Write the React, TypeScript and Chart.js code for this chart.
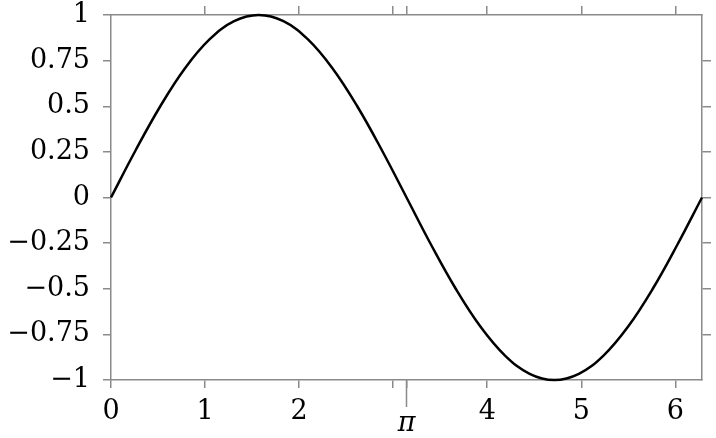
import React, { useEffect, useRef } from 'react';
import { Chart, registerables, Plugin } from 'chart.js';

Chart.register(...registerables);

// samples (x in radians, y)
const xs = [0, 0.262, 0.524, 0.785, 1.047, 1.309, 1.571, 1.833, 2.094, 2.356, 2.618, 2.88, 3.142,
    3.403, 3.665, 3.927, 4.189, 4.451, 4.712, 4.974, 5.236, 5.498, 5.76, 6.021, 6.283];
const ys = [0, 0.259, 0.5, 0.707, 0.866, 0.966, 1, 0.966, 0.866, 0.707, 0.5, 0.259, 0,
    -0.259, -0.5, -0.707, -0.866, -0.966, -1, -0.966, -0.866, -0.707, -0.5, -0.259, 0];

const PI = 3.14159265;
const X_MAX = 6.2832;

// bottom axis ticks and labels (3 has no label, pi is drawn with a long tick)
const xTickValues = [0, 1, 2, 3, PI, 4, 5, 6];
const xTickLabels = ['0', '1', '2', '', '', '4', '5', '6'];
const xTopTickValues = [1, 2, 3, PI, 4, 5, 6];

const yTickValues = [-1, -0.75, -0.5, -0.25, 0, 0.25, 0.5, 0.75, 1];
const yTickLabels = ['\u22121', '\u22120.75', '\u22120.5', '\u22120.25', '0', '0.25', '0.5', '0.75', '1'];
const yRightTickValues = [-0.75, -0.5, -0.25, 0, 0.25, 0.5, 0.75];

const AXIS = '#8a8a8a';
const FONT = 'DejaVu Serif';
const FONT_SIZE = 27;

const App: React.FC = () => {
    const canvasRef = useRef<HTMLCanvasElement | null>(null);

    useEffect(() => {
        if (!canvasRef.current) return;
        const ctx = canvasRef.current.getContext('2d');
        if (!ctx) return;

        // long tick + label for pi on the bottom axis
        const piTick: Plugin = {
            id: 'piTick',
            afterDraw(chart) {
                const s = chart.scales.x;
                const c = chart.ctx;
                const px = s.getPixelForValue(PI);
                c.save();
                c.strokeStyle = AXIS;
                c.lineWidth = 1.5;
                c.beginPath();
                c.moveTo(px, chart.chartArea.bottom);
                c.lineTo(px, chart.chartArea.bottom + 27);
                c.stroke();
                c.fillStyle = '#000';
                c.font = `italic ${FONT_SIZE}px "${FONT}"`;
                c.textAlign = 'center';
                c.textBaseline = 'middle';
                c.fillText('\u03c0', px, 424);
                c.restore();
            }
        };

        const gridOpts = (len: number) => ({
            drawOnChartArea: false,
            color: AXIS,
            lineWidth: 1.5,
            tickLength: len,
        });
        const borderOpts = { color: AXIS, width: 1.5 };
        const noPad = (s: any) => {
            s.paddingTop = 0;
            s.paddingBottom = 0;
            s.paddingLeft = 0;
            s.paddingRight = 0;
        };

        const chart = new Chart(ctx, {
            type: 'line',
            data: {
                datasets: [{
                    data: xs.map((x, i) => ({ x, y: ys[i] })),
                    borderColor: '#000',
                    borderWidth: 2.5,
                    pointRadius: 0,
                    tension: 0.4,
                    fill: false,
                    clip: false as any,
                }]
            },
            options: {
                animation: false,
                responsive: false,
                devicePixelRatio: 1,
                layout: { padding: 0 },
                plugins: { legend: { display: false }, tooltip: { enabled: false } },
                scales: {
                    x: {
                        type: 'linear',
                        position: 'bottom',
                        min: 0,
                        max: X_MAX,
                        afterBuildTicks: (s: any) => { s.ticks = xTickValues.map(v => ({ value: v })); },
                        afterFit: (s: any) => { s.height = 58; noPad(s); },
                        ticks: {
                            autoSkip: false,
                            maxRotation: 0,
                            padding: 8,
                            color: '#000',
                            font: { family: FONT, size: FONT_SIZE },
                            callback: (v: any) => xTickLabels[xTickValues.indexOf(Number(v))] ?? '',
                        },
                        grid: gridOpts(8),
                        border: borderOpts,
                    },
                    x2: {
                        type: 'linear',
                        position: 'top',
                        min: 0,
                        max: X_MAX,
                        afterBuildTicks: (s: any) => { s.ticks = xTopTickValues.map(v => ({ value: v })); },
                        afterFit: (s: any) => { s.height = 15; noPad(s); },
                        ticks: { display: false },
                        grid: gridOpts(9),
                        border: borderOpts,
                    },
                    y: {
                        type: 'linear',
                        position: 'left',
                        min: -1,
                        max: 1,
                        afterBuildTicks: (s: any) => { s.ticks = yTickValues.map(v => ({ value: v })); },
                        afterFit: (s: any) => { s.width = 111; noPad(s); },
                        ticks: {
                            autoSkip: false,
                            padding: 13,
                            color: '#000',
                            font: { family: FONT, size: FONT_SIZE },
                            callback: (v: any) => yTickLabels[yTickValues.indexOf(Number(v))] ?? '',
                        },
                        grid: gridOpts(8),
                        border: borderOpts,
                    },
                    y2: {
                        type: 'linear',
                        position: 'right',
                        min: -1,
                        max: 1,
                        afterBuildTicks: (s: any) => { s.ticks = yRightTickValues.map(v => ({ value: v })); },
                        afterFit: (s: any) => { s.width = 14; noPad(s); },
                        ticks: { display: false },
                        grid: gridOpts(9),
                        border: borderOpts,
                    },
                }
            },
            plugins: [piTick]
        });

        return () => {
            chart.destroy();
        };
    }, []);

    return (
        <div style={{ position: 'fixed', left: 0, top: 0, width: 716, height: 438, background: '#fff' }}>
            <canvas ref={canvasRef} width="716" height="438"></canvas>
        </div>
    );
};

export default App;
